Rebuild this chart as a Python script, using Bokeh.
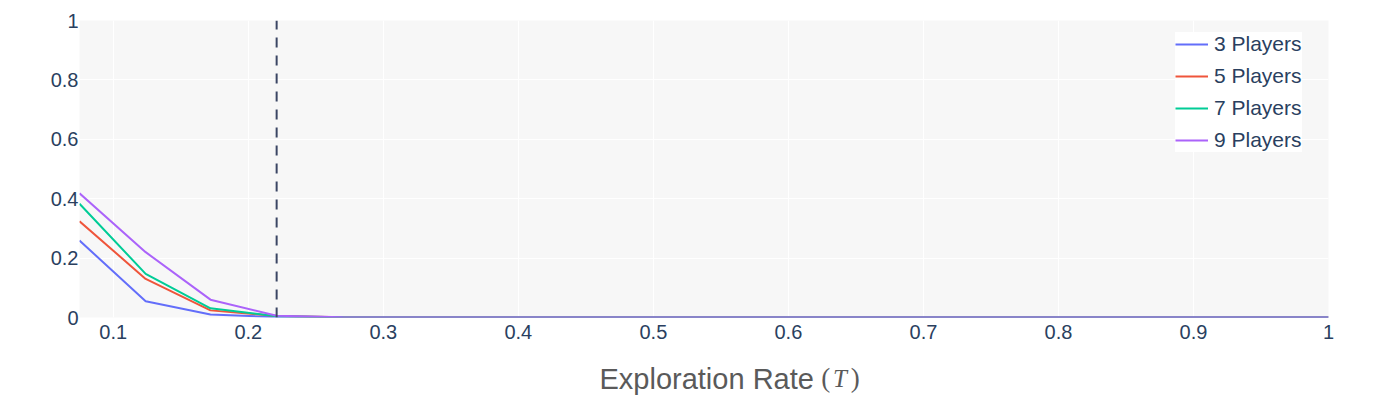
from bokeh.plotting import figure
from bokeh.models import Range1d, FixedTicker, Legend, LegendItem, ColumnDataSource
from bokeh.layouts import column
from bokeh.core.properties import value
from bokeh.embed import file_html
from bokeh.resources import INLINE

# ---- data ----
x_values = [0.075, 0.124, 0.172, 0.221, 0.270, 0.318, 0.367, 0.416, 0.464, 0.513,
            0.562, 0.610, 0.659, 0.708, 0.757, 0.805, 0.854, 0.903, 0.951, 1.0]
players_3 = [0.259, 0.055, 0.010, 0.001, 0.0, 0.0, 0.0, 0.0, 0.0, 0.0,
             0.0, 0.0, 0.0, 0.0, 0.0, 0.0, 0.0, 0.0, 0.0, 0.0]
players_5 = [0.324, 0.130, 0.024, 0.005, 0.001, 0.0, 0.0, 0.0, 0.0, 0.0,
             0.0, 0.0, 0.0, 0.0, 0.0, 0.0, 0.0, 0.0, 0.0, 0.0]
players_7 = [0.383, 0.147, 0.031, 0.004, 0.001, 0.0, 0.0, 0.0, 0.0, 0.0,
             0.0, 0.0, 0.0, 0.0, 0.0, 0.0, 0.0, 0.0, 0.0, 0.0]
players_9 = [0.418, 0.220, 0.060, 0.006, 0.001, 0.0, 0.0, 0.0, 0.0, 0.0,
             0.0, 0.0, 0.0, 0.0, 0.0, 0.0, 0.0, 0.0, 0.0, 0.0]
series_names = ["3 Players", "5 Players", "7 Players", "9 Players"]
series_colors = ["#636efa", "#ef553b", "#00cc96", "#ab63fa"]
threshold = 0.221
x_ticks = [0.1, 0.2, 0.3, 0.4, 0.5, 0.6, 0.7, 0.8, 0.9, 1.0]
x_tick_labels = ["0.1", "0.2", "0.3", "0.4", "0.5", "0.6", "0.7", "0.8", "0.9", "1"]
y_ticks = [0.0, 0.2, 0.4, 0.6, 0.8, 1.0]
y_tick_labels = ["0", "0.2", "0.4", "0.6", "0.8", "1"]
x_title = "Exploration Rate"
x_title_symbol = "T"

TICK_COLOR = "#2a3f5f"
TITLE_COLOR = "#5a5a5a"
FONT = "Liberation Sans"
W = 1396

p = figure(width=W, height=350, output_backend="svg", toolbar_location=None,
           x_range=Range1d(0.075, 1.0), y_range=Range1d(0.0, 1.0),
           min_border_left=79, min_border_right=68, min_border_top=20, min_border_bottom=33)
p.background_fill_color = "#f7f7f7"
p.border_fill_color = "white"
p.outline_line_color = None

for ax in (p.xaxis[0], p.yaxis[0]):
    ax.axis_line_color = None
    ax.major_tick_line_color = None
    ax.minor_tick_line_color = None
    ax.major_tick_out = 0
    ax.major_tick_in = 0
    ax.minor_tick_out = 0
    ax.minor_tick_in = 0
    ax.major_label_text_font = FONT
    ax.major_label_text_font_size = "20px"
    ax.major_label_text_color = TICK_COLOR

p.xaxis[0].ticker = FixedTicker(ticks=x_ticks)
p.xaxis[0].major_label_overrides = {t: l for t, l in zip(x_ticks, x_tick_labels)}
p.xaxis[0].major_label_standoff = 7
p.yaxis[0].ticker = FixedTicker(ticks=y_ticks)
p.yaxis[0].major_label_overrides = {t: l for t, l in zip(y_ticks, y_tick_labels)}
p.yaxis[0].major_label_standoff = 1

p.xgrid.grid_line_color = "white"
p.ygrid.grid_line_color = "white"
p.xgrid.grid_line_width = 1
p.ygrid.grid_line_width = 1

items = []
for name, col, ys in zip(series_names, series_colors,
                         [players_3, players_5, players_7, players_9]):
    src = ColumnDataSource(dict(x=x_values, y=ys))
    r = p.line("x", "y", source=src, line_color=col, line_width=2)
    items.append(LegendItem(label=name, renderers=[r]))

p.line(x=[threshold, threshold], y=[0.0, 1.0], line_color="#3b4664",
       line_width=2, line_dash="10 8")

legend = Legend(items=items, location=(1096, 165))
legend.background_fill_color = "white"
legend.background_fill_alpha = 1.0
legend.border_line_color = None
legend.label_text_font = FONT
legend.label_text_font_size = "21px"
legend.label_text_color = TICK_COLOR
legend.glyph_width = 33
legend.glyph_height = 24
legend.label_height = 24
legend.label_width = 88
legend.label_standoff = 6
legend.spacing = 8
legend.padding = 8
legend.margin = 0
p.add_layout(legend, "center")

# ---- axis title strip (mixed upright / italic text) ----
t = figure(width=W, height=58, output_backend="svg", toolbar_location=None,
           x_range=Range1d(0, W), y_range=Range1d(0, 58),
           min_border_left=0, min_border_right=0, min_border_top=0, min_border_bottom=0)
t.axis.visible = False
t.grid.visible = False
t.outline_line_color = None
t.background_fill_color = "white"
t.border_fill_color = "white"

base_y = 30
t.text(x=[701], y=[base_y], text=[x_title], text_align="center",
       text_baseline="alphabetic", text_font=value(FONT), text_font_size="29px",
       text_color=TITLE_COLOR)
t.text(x=[834, 867], y=[base_y + 1, base_y + 1], text=["(", ")"], text_align="center",
       text_baseline="alphabetic", text_font=value("Liberation Serif"),
       text_font_size="27px", text_color=TITLE_COLOR)
t.text(x=[850], y=[base_y], text=[x_title_symbol], text_align="center",
       text_baseline="alphabetic", text_font=value("Liberation Serif"),
       text_font_style="italic", text_font_size="25px", text_color=TITLE_COLOR)

layout = column(p, t, spacing=0)
open("out.html", "w").write(file_html(layout, INLINE))
